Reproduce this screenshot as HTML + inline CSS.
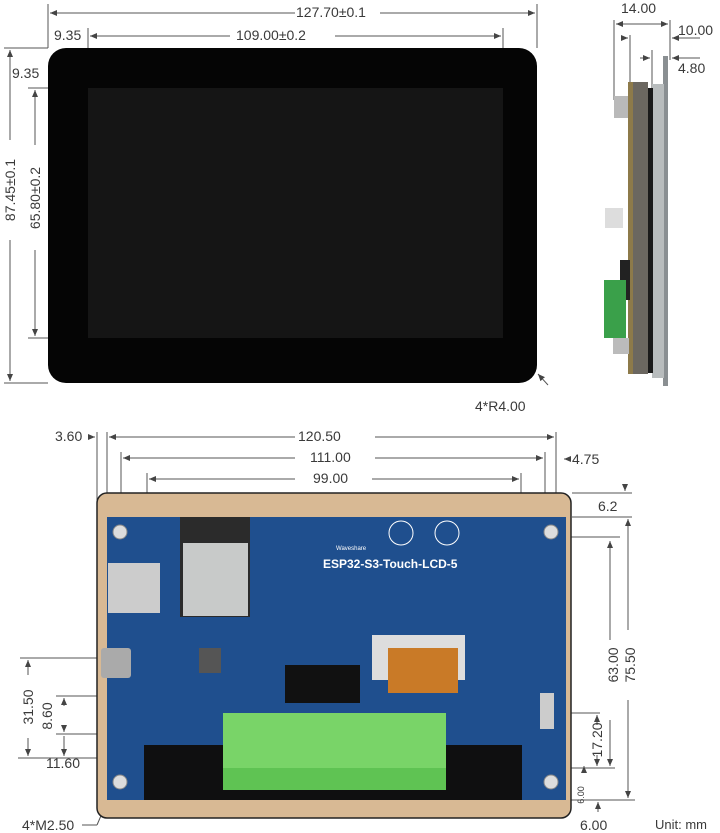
<!DOCTYPE html><html><head><style>
html,body{margin:0;width:720px;height:833px;overflow:hidden}
body{background:#fff;position:relative;font-family:"Liberation Sans",sans-serif;color:#444}
.t{position:absolute;font-size:14px;white-space:nowrap;color:#3a3a3a}
.a{position:absolute}
</style></head><body>
<svg class="a" style="left:0;top:0" width="720" height="833">
<defs><marker id="m" markerWidth="8" markerHeight="8" refX="7" refY="4" orient="auto-start-reverse"><path d="M0,1 L7,4 L0,7z" fill="#444"/></marker></defs>
<g stroke="#555" stroke-width="1" fill="none">
<line x1="48" y1="4" x2="48" y2="48"/><line x1="537" y1="4" x2="537" y2="48"/>
<line x1="50" y1="13" x2="295" y2="13" marker-start="url(#m)"/><line x1="380" y1="13" x2="535" y2="13" marker-end="url(#m)"/>
<line x1="88" y1="28" x2="88" y2="90"/><line x1="503" y1="28" x2="503" y2="90"/>
<line x1="90" y1="36" x2="230" y2="36" marker-start="url(#m)"/><line x1="335" y1="36" x2="501" y2="36" marker-end="url(#m)"/>
<line x1="4" y1="48" x2="48" y2="48"/><line x1="4" y1="383" x2="48" y2="383"/>
<line x1="28" y1="88" x2="88" y2="88"/><line x1="28" y1="338" x2="88" y2="338"/>
<line x1="10" y1="50" x2="10" y2="140" marker-start="url(#m)"/><line x1="10" y1="240" x2="10" y2="381" marker-end="url(#m)"/>
<line x1="35" y1="90" x2="35" y2="145" marker-start="url(#m)"/><line x1="35" y1="250" x2="35" y2="336" marker-end="url(#m)"/>
<line x1="548" y1="385" x2="538" y2="374" marker-end="url(#m)"/>
<line x1="614" y1="20" x2="614" y2="100"/><line x1="670" y1="20" x2="670" y2="60"/>
<line x1="616" y1="24" x2="668" y2="24" marker-start="url(#m)" marker-end="url(#m)"/>
<line x1="630" y1="35" x2="630" y2="85"/><line x1="622" y1="38" x2="628" y2="38" marker-end="url(#m)"/>
<line x1="652" y1="50" x2="652" y2="90"/><line x1="640" y1="58" x2="650" y2="58" marker-end="url(#m)"/>
<line x1="700" y1="38" x2="672" y2="38" marker-end="url(#m)"/><line x1="700" y1="58" x2="672" y2="58" marker-end="url(#m)"/>
<line x1="97" y1="432" x2="97" y2="500"/><line x1="107" y1="432" x2="107" y2="525"/><line x1="121" y1="452" x2="121" y2="525"/><line x1="147" y1="473" x2="147" y2="520"/>
<line x1="521" y1="473" x2="521" y2="520"/><line x1="545" y1="452" x2="545" y2="525"/><line x1="556" y1="432" x2="556" y2="525"/>
<line x1="109" y1="437" x2="295" y2="437" marker-start="url(#m)"/><line x1="375" y1="437" x2="554" y2="437" marker-end="url(#m)"/>
<line x1="123" y1="458" x2="295" y2="458" marker-start="url(#m)"/><line x1="375" y1="458" x2="543" y2="458" marker-end="url(#m)"/>
<line x1="149" y1="479" x2="295" y2="479" marker-start="url(#m)"/><line x1="372" y1="479" x2="519" y2="479" marker-end="url(#m)"/>
<line x1="90" y1="437" x2="95" y2="437" marker-end="url(#m)"/><line x1="570" y1="459" x2="564" y2="459" marker-end="url(#m)"/>
<line x1="572" y1="493" x2="632" y2="493"/><line x1="572" y1="517" x2="632" y2="517"/>
<line x1="625" y1="484" x2="625" y2="491" marker-end="url(#m)"/>
<line x1="550" y1="537" x2="620" y2="537"/>
<line x1="610" y1="541" x2="610" y2="640" marker-start="url(#m)"/><line x1="610" y1="720" x2="610" y2="766" marker-end="url(#m)"/>
<line x1="628" y1="519" x2="628" y2="630" marker-start="url(#m)"/><line x1="628" y1="700" x2="628" y2="798" marker-end="url(#m)"/>
<line x1="560" y1="800" x2="635" y2="800"/><line x1="555" y1="768" x2="615" y2="768"/><line x1="555" y1="713" x2="600" y2="713"/>
<line x1="597" y1="715" x2="597" y2="725" marker-start="url(#m)"/><line x1="597" y1="755" x2="597" y2="766" marker-end="url(#m)"/>
<line x1="584" y1="773" x2="584" y2="766" marker-end="url(#m)"/><line x1="598" y1="812" x2="598" y2="802" marker-end="url(#m)"/>
<line x1="18" y1="758" x2="112" y2="758"/><line x1="56" y1="696" x2="107" y2="696"/><line x1="56" y1="734" x2="107" y2="734"/>
<line x1="20" y1="658" x2="107" y2="658"/>
<line x1="28" y1="660" x2="28" y2="675" marker-start="url(#m)"/><line x1="28" y1="738" x2="28" y2="756" marker-end="url(#m)"/>
<line x1="64" y1="698" x2="64" y2="706" marker-start="url(#m)"/><line x1="64" y1="725" x2="64" y2="732" marker-end="url(#m)"/>
<line x1="64" y1="736" x2="64" y2="756" marker-end="url(#m)"/>
<line x1="82" y1="825" x2="97" y2="825"/><line x1="97" y1="825" x2="112" y2="790"/>
</g>
<rect x="48" y="48" width="489" height="335" rx="18" fill="#050505"/>
<rect x="88" y="88" width="415" height="250" fill="#151515"/>
<rect x="663" y="56" width="5" height="330" fill="#8a8f92"/>
<rect x="652" y="84" width="12" height="294" fill="#b8bcbd"/>
<rect x="648" y="88" width="5" height="285" fill="#1a1a1a"/>
<rect x="632" y="82" width="16" height="292" fill="#6b6760"/>
<rect x="628" y="82" width="5" height="292" fill="#8d7a4a"/>
<rect x="614" y="96" width="14" height="22" fill="#b9b9b9"/>
<rect x="605" y="208" width="18" height="20" fill="#ddd"/>
<rect x="620" y="260" width="10" height="40" fill="#222"/>
<rect x="604" y="280" width="22" height="58" fill="#3aa04a"/>
<rect x="613" y="338" width="16" height="16" fill="#bbb"/>
<rect x="97" y="493" width="474" height="325" rx="10" fill="#d8b994" stroke="#222" stroke-width="1.5"/>
<rect x="107" y="517" width="459" height="283" fill="#1f4f8e"/>
<rect x="180" y="517" width="70" height="100" fill="#2b2b2b"/>
<rect x="183" y="543" width="65" height="73" fill="#c8cac9"/>
<rect x="108" y="563" width="52" height="50" fill="#ccc"/>
<rect x="101" y="648" width="30" height="30" rx="3" fill="#aaa"/>
<rect x="144" y="745" width="378" height="55" fill="#0f0f10"/>
<rect x="223" y="713" width="223" height="55" fill="#79d468"/>
<rect x="223" y="768" width="223" height="22" fill="#5fc353"/>
<rect x="285" y="665" width="75" height="38" fill="#111"/>
<rect x="372" y="635" width="93" height="45" fill="#ddd"/>
<rect x="388" y="648" width="70" height="45" fill="#c97a27"/>
<rect x="199" y="648" width="22" height="25" fill="#555"/>
<rect x="540" y="693" width="14" height="36" fill="#ccc"/>
<g fill="#ddd" stroke="#888"><circle cx="120" cy="532" r="7"/><circle cx="551" cy="532" r="7"/><circle cx="120" cy="782" r="7"/><circle cx="551" cy="782" r="7"/></g>
<g fill="none" stroke="#fff"><circle cx="401" cy="533" r="12"/><circle cx="447" cy="533" r="12"/></g>
<g font-family="Liberation Sans" font-size="14" fill="#3a3a3a" text-anchor="middle">
<text transform="translate(15,190) rotate(-90)">87.45±0.1</text>
<text transform="translate(40,198) rotate(-90)">65.80±0.2</text>
<text transform="translate(618,665) rotate(-90)">63.00</text>
<text transform="translate(635,665) rotate(-90)">75.50</text>
<text transform="translate(33,707) rotate(-90)">31.50</text>
<text transform="translate(52,716) rotate(-90)">8.60</text>
<text transform="translate(602,740) rotate(-90)">17.20</text>
<text transform="translate(584,795) rotate(-90)" font-size="9">6.00</text>
</g>
</svg>
<div class="t" style="left:296px;top:4px">127.70±0.1</div>
<div class="t" style="left:54px;top:27px">9.35</div>
<div class="t" style="left:236px;top:27px">109.00±0.2</div>
<div class="t" style="left:12px;top:65px">9.35</div>
<div class="t" style="left:475px;top:398px">4*R4.00</div>
<div class="t" style="left:621px;top:0px">14.00</div>
<div class="t" style="left:678px;top:22px">10.00</div>
<div class="t" style="left:678px;top:60px">4.80</div>
<div class="t" style="left:55px;top:428px">3.60</div>
<div class="t" style="left:298px;top:428px">120.50</div>
<div class="t" style="left:310px;top:449px">111.00</div>
<div class="t" style="left:313px;top:470px">99.00</div>
<div class="t" style="left:572px;top:451px">4.75</div>
<div class="t" style="left:598px;top:498px">6.2</div>
<div class="t" style="left:323px;top:557px;font-size:12px;font-weight:bold;color:#fff">ESP32-S3-Touch-LCD-5</div>
<div class="t" style="left:336px;top:546px;font-size:6px;color:#fff">Waveshare</div>
<div class="t" style="left:46px;top:755px">11.60</div>
<div class="t" style="left:580px;top:817px">6.00</div>
<div class="t" style="left:655px;top:817px;font-size:13px">Unit: mm</div>
<div class="t" style="left:22px;top:817px">4*M2.50</div>
</body></html>
